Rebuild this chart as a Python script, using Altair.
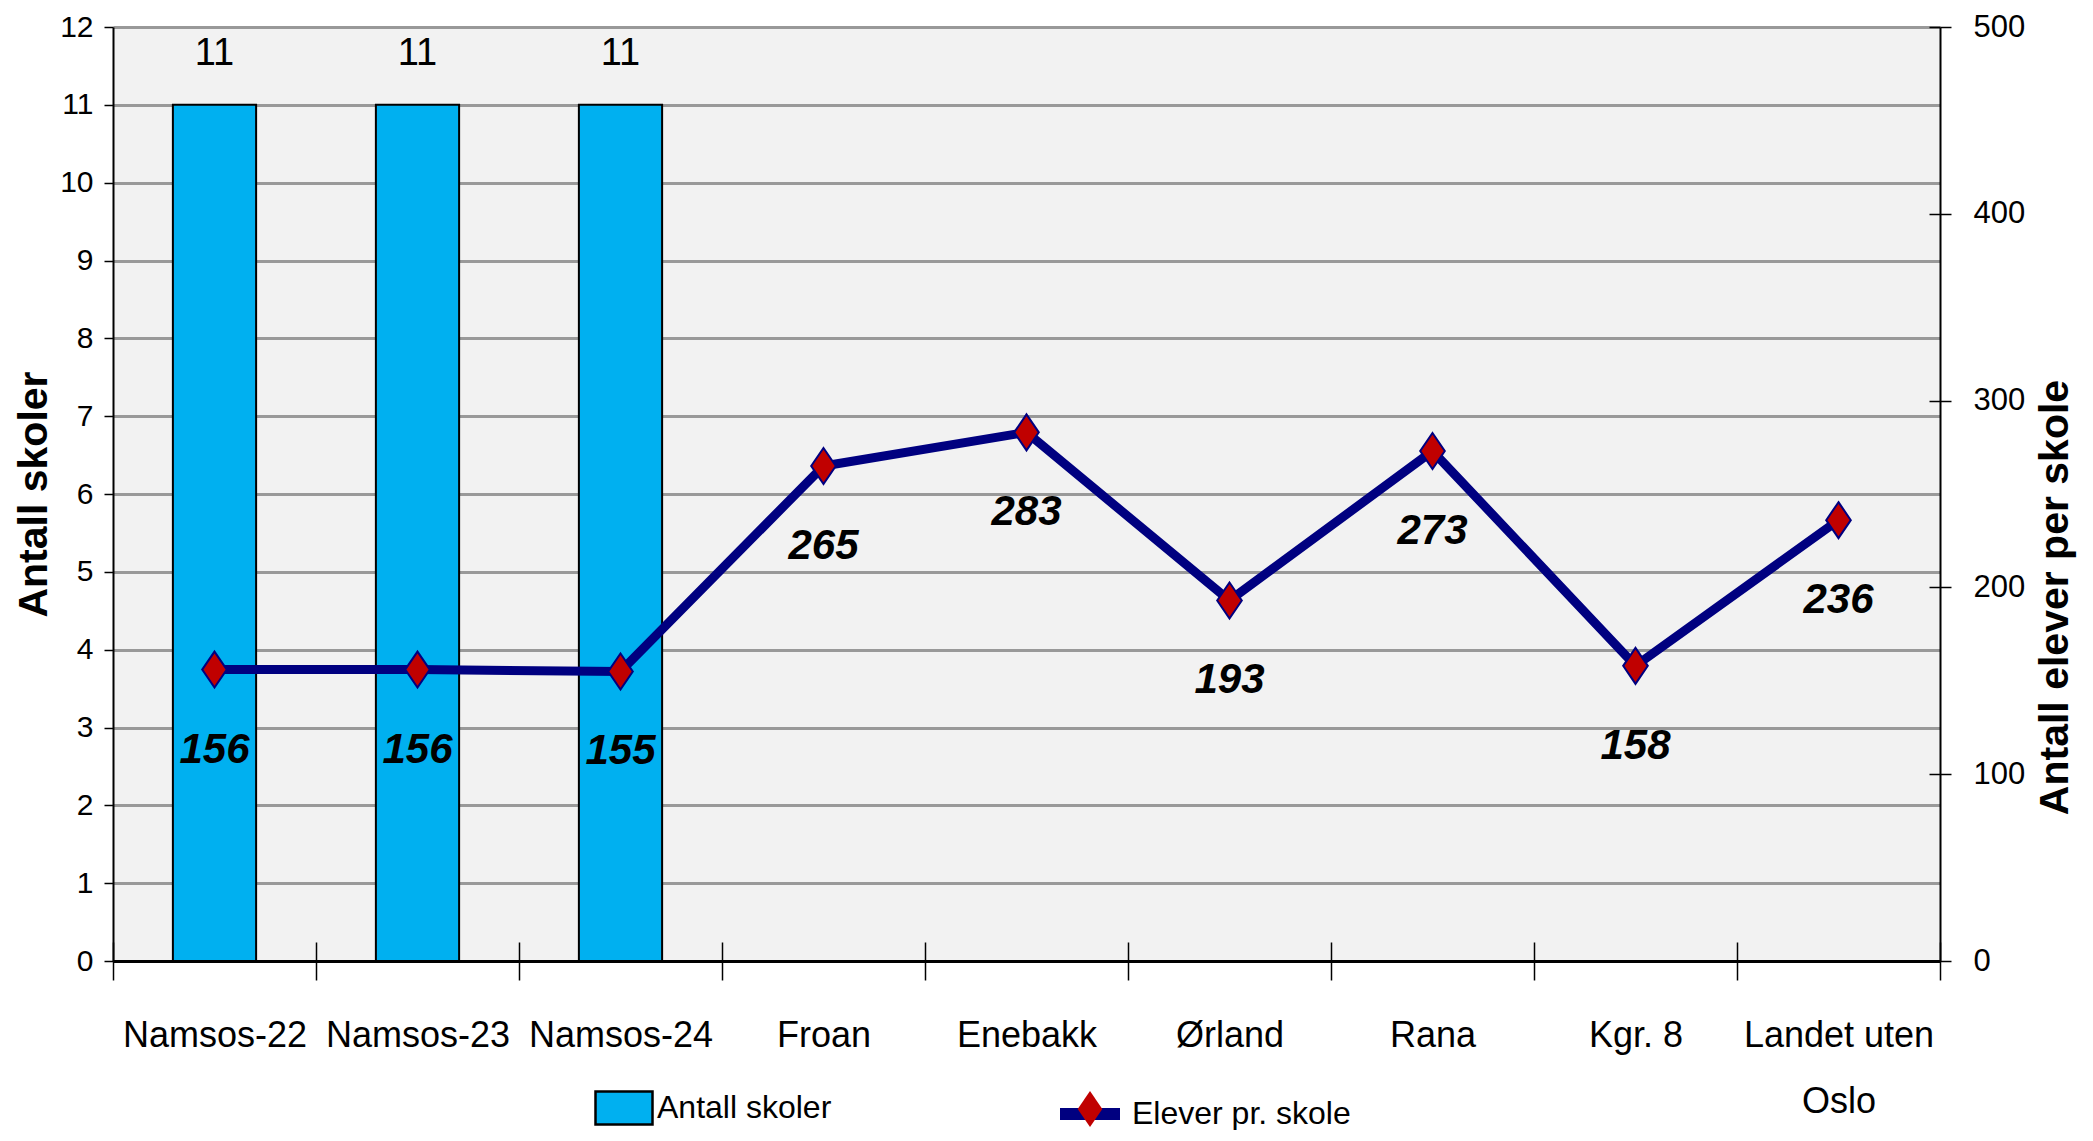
import altair as alt
import pandas as pd

categories = ["Namsos-22", "Namsos-23", "Namsos-24", "Froan", "Enebakk",
              "Ørland", "Rana", "Kgr. 8", "Landet uten Oslo"]
antall_skoler = [11, 11, 11, None, None, None, None, None, None]
elever_per_skole = [156, 156, 155, 265, 283, 193, 273, 158, 236]
left_ticks = [0, 1, 2, 3, 4, 5, 6, 7, 8, 9, 10, 11, 12]
right_ticks = [0, 100, 200, 300, 400, 500]
series_bar = "Antall skoler"
series_line = "Elever pr. skole"
series_marker = "Elever pr. skole (markør)"

df = pd.DataFrame({"kommune": categories, "skoler": antall_skoler,
                   "elever": elever_per_skole})
df["s1"] = series_bar
df["s2"] = series_line
df["s3"] = series_marker

FONT = "Liberation Sans, Arial, sans-serif"
W, H = 1827, 934
DIAMOND = "M0,-0.6L0.41,0L0,0.6L-0.41,0Z"
RECT = "M-1,-0.58H1V0.58H-1Z"
LEG_Y = 1051

sort_scale = alt.Scale(paddingInner=0, paddingOuter=0)

x_main = alt.X("kommune:N", sort=categories, scale=sort_scale, axis=alt.Axis(
    orient="bottom", title=None, labelAngle=0, tickBand="extent", grid=False,
    domainColor="black", domainWidth=3, tickColor="black",
    tickSize=19, tickWidth=1.5, labelFont=FONT, labelFontSize=36,
    labelColor="black", labelPadding=38, labelLineHeight=66, labelLimit=0,
    labelExpr="datum.label == 'Landet uten Oslo' ? ['Landet uten', 'Oslo'] : datum.label"))
x_inner_ticks = alt.X("kommune:N", sort=categories, scale=sort_scale, axis=alt.Axis(
    orient="bottom", title=None, offset=-19, tickBand="extent", grid=False,
    domain=False, labels=False, tickColor="black", tickSize=19, tickWidth=1.5))
x_plain = alt.X("kommune:N", sort=categories, scale=sort_scale, axis=None)

y_left = alt.Scale(domain=[0, 12], nice=False, zero=True)
y_right = alt.Scale(domain=[0, 500], nice=False, zero=True)

bars = alt.Chart(df).mark_bar(
    width=alt.RelativeBandSize(0.41), stroke="black", strokeWidth=2
).encode(
    x=x_main,
    y=alt.Y("skoler:Q", scale=y_left, axis=alt.Axis(
        orient="left", title="Antall skoler", values=left_ticks,
        titleFont=FONT, titleFontWeight="bold", titleFontSize=41,
        titleColor="black", titlePadding=4,
        labelFont=FONT, labelFontSize=30, labelColor="black", labelPadding=11,
        tickSize=9, tickColor="black", tickWidth=1.5,
        domainColor="black", domainWidth=2,
        grid=True, gridColor="#999999", gridWidth=3)),
    fill=alt.Fill("s1:N", scale=alt.Scale(domain=[series_bar], range=["#00B0F0"]),
                  legend=alt.Legend(title=None, orient="none", legendX=481, legendY=LEG_Y,
                                    symbolType=RECT, symbolSize=3249,
                                    symbolStrokeColor="black", symbolStrokeWidth=2.5,
                                    symbolOpacity=1, padding=0, labelOffset=3, labelLimit=0,
                                    labelFont=FONT, labelFontSize=32, labelColor="black")),
)

bar_text = alt.Chart(df).mark_text(
    dy=-51, font=FONT, fontSize=38, color="black"
).encode(
    x=x_inner_ticks,
    y=alt.Y("skoler:Q", scale=y_left, axis=None),
    text=alt.Text("skoler:Q"),
)

line = alt.Chart(df).mark_line(strokeWidth=9).encode(
    x=x_plain,
    y=alt.Y("elever:Q", scale=y_right, axis=alt.Axis(
        orient="right", title="Antall elever per skole", values=right_ticks,
        titleAngle=270, titleBaseline="top", titleY=570,
        titleFont=FONT, titleFontWeight="bold", titleFontSize=41,
        titleColor="black", titlePadding=11,
        labelFont=FONT, labelFontSize=31, labelColor="black", labelPadding=22,
        tickSize=11, tickColor="black", tickWidth=1.5,
        domainColor="black", domainWidth=2, grid=False)),
    stroke=alt.Stroke("s2:N", scale=alt.Scale(domain=[series_line], range=["#000080"]),
                      legend=alt.Legend(title=None, orient="none", legendX=941, legendY=LEG_Y,
                                        symbolType="stroke", symbolSize=3600,
                                        symbolStrokeWidth=12, padding=0, labelOffset=6,
                                        labelLimit=0,
                                        labelFont=FONT, labelFontSize=32, labelColor="black")),
)

points = alt.Chart(df).mark_point(
    filled=True, size=3600, fill="#C00000", stroke="#000080", strokeWidth=2, opacity=1
).encode(
    x=x_plain,
    y=alt.Y("elever:Q", scale=y_right, axis=alt.Axis(
        orient="right", title=None, values=right_ticks, offset=-11,
        labels=False, domain=False, grid=False,
        tickSize=11, tickColor="black", tickWidth=1.5)),
    shape=alt.Shape("s3:N", scale=alt.Scale(domain=[series_marker], range=[DIAMOND]),
                    legend=alt.Legend(title=None, orient="none", legendX=946, legendY=LEG_Y,
                                      symbolSize=3600, symbolFillColor="#C00000",
                                      symbolStrokeColor="#000080", symbolStrokeWidth=2,
                                      symbolOpacity=1, padding=0, labelExpr="''",
                                      labelFontSize=32)),
)

line_text = alt.Chart(df).mark_text(
    dy=80, font=FONT, fontSize=42, fontWeight="bold", fontStyle="italic", color="black"
).encode(
    x=x_plain,
    y=alt.Y("elever:Q", scale=y_right, axis=None),
    text=alt.Text("elever:Q"),
)

chart = alt.layer(bars, bar_text, line, points, line_text).resolve_scale(
    y="independent"
).resolve_axis(
    x="independent", y="independent"
).properties(
    width=W, height=H,
    autosize=alt.AutoSizeParams(type="none"),
    padding={"left": 105, "top": 19, "right": 140, "bottom": 169},
    background="white",
).configure_view(
    fill="#F2F2F2", stroke=None
)

chart.save("out.html", embed_options={"renderer": "svg", "actions": False})
